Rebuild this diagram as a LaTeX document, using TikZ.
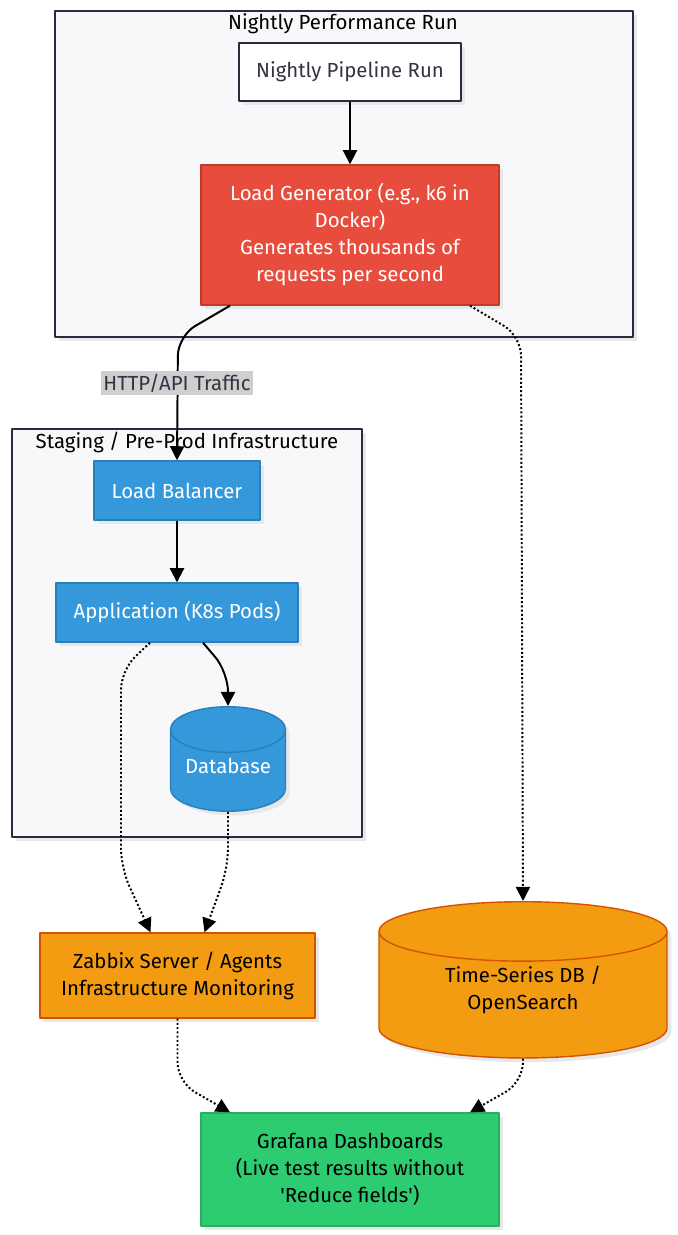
\documentclass[tikz,border=0pt]{standalone}
\usepackage{fontspec}
\setmainfont{Fira Sans}
\usetikzlibrary{shapes.geometric,arrows.meta,shadows,positioning}
\definecolor{navy}{HTML}{2B2B40}
\definecolor{ink}{HTML}{333344}
\definecolor{clusterbg}{HTML}{F8F8FB}
\definecolor{labelbg}{HTML}{CFCFCF}
\definecolor{redfill}{HTML}{E74C3C}
\definecolor{redline}{HTML}{C0392B}
\definecolor{bluefill}{HTML}{3498DB}
\definecolor{blueline}{HTML}{2980B9}
\definecolor{orangefill}{HTML}{F39C12}
\definecolor{orangeline}{HTML}{D35400}
\definecolor{greenfill}{HTML}{2ECC71}
\definecolor{greenline}{HTML}{27AE60}
\begin{document}
\begin{tikzpicture}[x=0.025cm, y=-0.025cm, font=\fontsize{14.5}{19.2}\selectfont, line join=round,
  >={Triangle[length=10pt,width=10pt]},
  shade/.style={drop shadow={shadow xshift=3pt, shadow yshift=-3pt, fill=black!9, opacity=1}},
  cluster/.style={draw=navy, fill=clusterbg, line width=1.3pt, shade},
  plain/.style={rectangle, draw=navy, fill=white, text=ink, line width=1.4pt, shade},
  colbox/.style={rectangle, draw=#1line, fill=#1fill, line width=1pt, align=center, shade},
  dbcyl/.style={cylinder, shape border rotate=90, anchor=north, draw=#1line, fill=#1fill, line width=1pt, align=center, shade},
  flow/.style={->, line width=1.4pt},
  dotflow/.style={flow, dash pattern=on 1.4pt off 1.6pt},
  elabel/.style={fill=labelbg, text=ink, inner sep=2pt}]
\useasboundingbox (0,0) rectangle (677,1235);

\draw[cluster] (55,11) rectangle (633,337);
\draw[cluster] (12,429) rectangle (362,837);
\node (runtitle) at (343,24) {Nightly Performance Run};
\node (stagetitle) at (187,442) {Staging / Pre-Prod Infrastructure};

\node[plain, minimum width=5.55cm, minimum height=1.45cm] (pipe) at (350,72) {Nightly Pipeline Run};
\node[colbox=red, text=white, minimum width=7.45cm, minimum height=3.5cm] (gen) at (350,235)
  {Load Generator (e.g., k6 in\\Docker)\\Generates thousands of\\requests per second};
\node[colbox=blue, text=white, minimum width=4.15cm, minimum height=1.475cm] (lb) at (177,490.5) {Load Balancer};
\node[colbox=blue, text=white, minimum width=6.05cm, minimum height=1.475cm] (app) at (177,612.5) {Application (K8s Pods)};
\node[dbcyl=blue, text=white, aspect=0.48, text depth=14pt, minimum width=2.875cm, minimum height=2.35cm] (db) at (228,706) {Database};
\node[colbox=orange, minimum width=6.875cm, minimum height=2.125cm] (zab) at (177.5,975.5)
  {Zabbix Server / Agents\\Infrastructure Monitoring};
\node[dbcyl=orange, aspect=0.36, text depth=15pt, minimum width=7.2cm, minimum height=3.6cm] (tsdb) at (523,901) {Time-Series DB /\\OpenSearch};
\node[colbox=green, minimum width=7.45cm, minimum height=2.825cm] (graf) at (350,1169.5)
  {Grafana Dashboards\\(Live test results without\\\textquotesingle Reduce fields\textquotesingle)};

\draw[flow] (pipe) -- (gen);
\draw[flow, rounded corners=14] ([xshift=-3cm]gen.south) -- (178,336) -- (lb.north);
\node[elabel] (traffic) at (177,383) {HTTP/API Traffic};
\draw[flow] (lb) -- (app);
\draw[flow, rounded corners=14] ([xshift=0.65cm]app.south) -- (228,672) -- (db.north);
\draw[dotflow, rounded corners=14] ([xshift=3cm]gen.south) -- (521,336) -- (tsdb.north);
\draw[dotflow, rounded corners=14] ([xshift=-0.675cm]app.south) -- (121,670) -- (121,868) -- ([xshift=-0.675cm]zab.north);
\draw[dotflow, rounded corners=14] (db.south) -- (228,868) -- ([xshift=0.675cm]zab.north);
\draw[dotflow, rounded corners=14] (zab.south) -- (177.5,1082) -- ([xshift=-3cm]graf.north);
\draw[dotflow, rounded corners=14] (tsdb.south) -- (523,1082) -- ([xshift=3cm]graf.north);
\end{tikzpicture}
\end{document}
